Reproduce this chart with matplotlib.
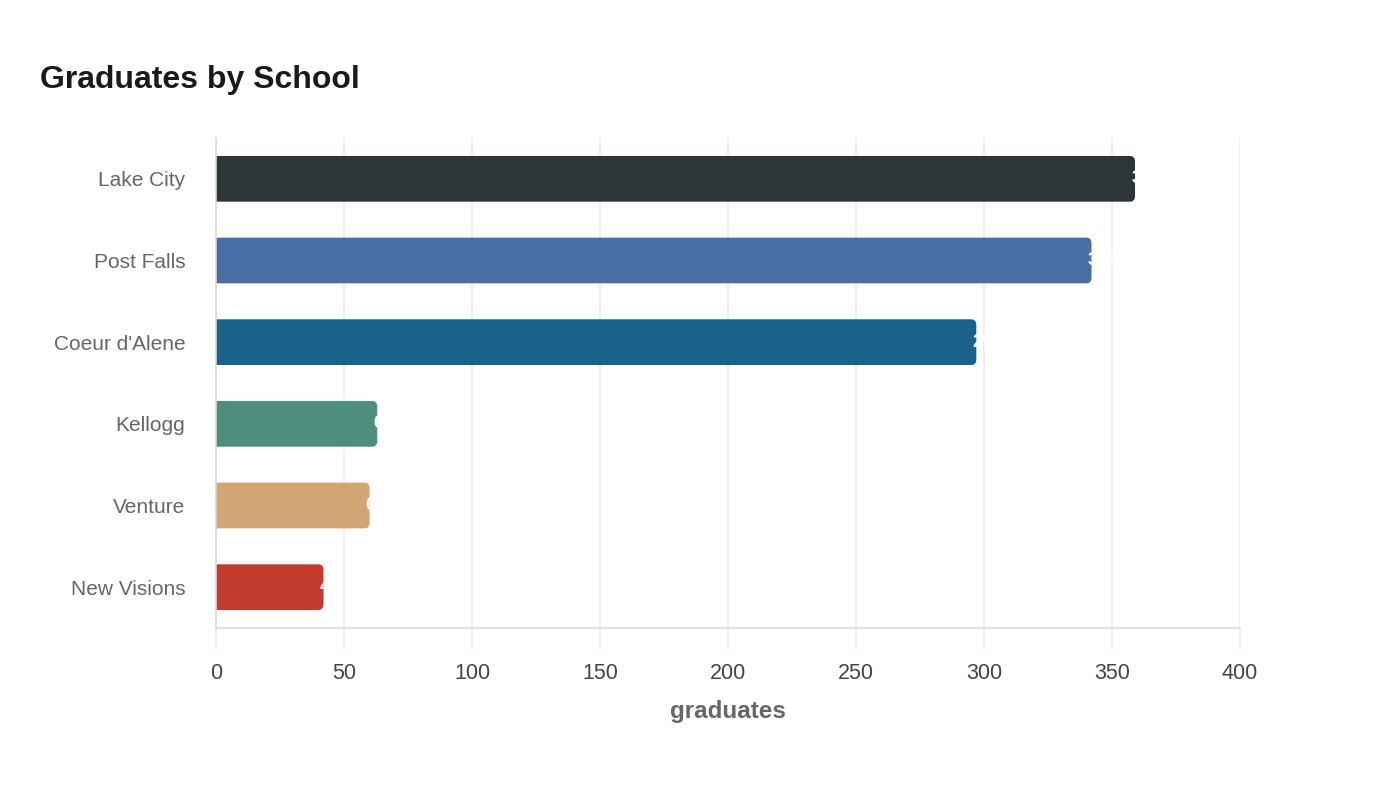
import matplotlib
matplotlib.use("Agg")
import matplotlib.pyplot as plt
from matplotlib.patches import FancyBboxPatch

plt.rcParams['font.family'] = ['Liberation Sans', 'DejaVu Sans']

schools = ["Lake City", "Post Falls", "Coeur d'Alene", "Kellogg", "Venture", "New Visions"]
graduates = [359, 342, 297, 63, 60, 42]
colors = ["#2e3538", "#4a6fa5", "#1a6189", "#4e8e7c", "#d4a574", "#c43c2e"]
xticks = [0, 50, 100, 150, 200, 250, 300, 350, 400]

fig = plt.figure(figsize=(14, 8), dpi=100)
ax = fig.add_axes([216/1400, 1-628/800, (1240-216)/1400, (628-138)/800])

ypos = list(range(len(schools)))[::-1]
bars = ax.barh(ypos, graduates, height=0.56, color=colors, zorder=2)

# replace with right-rounded patches (left corners hidden behind the axis edge)
for b, c in zip(bars, colors):
    x0, y0, w, h = b.get_x(), b.get_y(), b.get_width(), b.get_height()
    b.set_visible(False)
    r = 2.0
    ext = 4.0
    p = FancyBboxPatch((x0 - ext, y0), w + ext, h,
                       boxstyle=f"round,pad=0,rounding_size={r}",
                       mutation_aspect=0.035,
                       facecolor=c, edgecolor='none', linewidth=0, zorder=2)
    ax.add_patch(p)

for y, v in zip(ypos, graduates):
    ax.text(v - 1.5, y, str(v), color='white', fontsize=13, fontweight='bold',
            ha='left', va='center', zorder=3)

ax.set_xlim(0, 400)
ax.set_ylim(-0.5, 5.5)
ax.set_xticks(xticks)
ax.set_xticklabels([str(t) for t in xticks])
ax.set_yticks(ypos)
ax.set_yticklabels(schools)

ax.grid(axis='x', color='#ebebeb', linewidth=1.2, zorder=0)
ax.grid(axis='y', visible=False)
for s in ['top', 'right']:
    ax.spines[s].set_visible(False)
ax.spines['left'].set_color('#d9d9d9')
ax.spines['left'].set_linewidth(1.2)
ax.spines['left'].set_zorder(4)
ax.spines['bottom'].set_color('#dcdcdc')
ax.spines['bottom'].set_linewidth(1.2)

ax.tick_params(axis='x', length=16, color='#ebebeb', width=1.2, pad=9,
               labelsize=15.5, labelcolor='#444444')
ax.tick_params(axis='y', length=0, pad=22, labelsize=15, labelcolor='#666666')

ax.set_xlabel('graduates', fontsize=17.5, fontweight='bold', color='#666666', labelpad=12)

fig.text(40/1400, 1-80/800, 'Graduates by School', fontsize=23, fontweight='bold',
         color='#1a1a1a', ha='left', va='center')

fig.savefig('out.png', dpi=100, facecolor='white')
